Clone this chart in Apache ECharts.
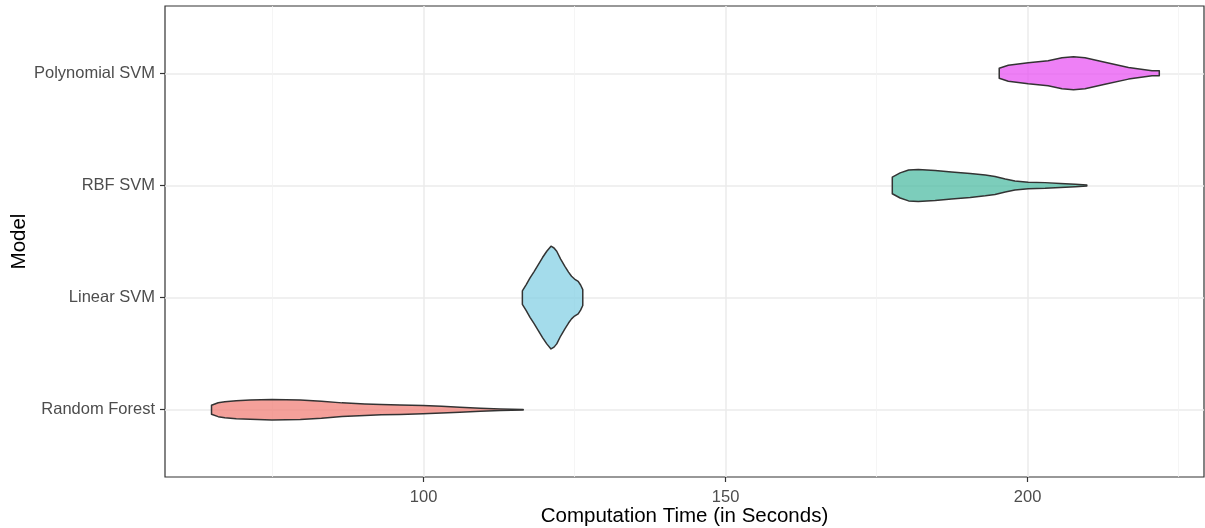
<!DOCTYPE html>
<html><head><meta charset="utf-8">
<script src="https://cdn.jsdelivr.net/npm/echarts@6/dist/echarts.min.js"></script>
<style>html,body{margin:0;padding:0;background:#fff}#c{width:1205px;height:528px}</style>
</head><body><div id="c"></div>
<script>
// Categories (bottom to top)
const categories = ['Random Forest', 'Linear SVM', 'RBF SVM', 'Polynomial SVM'];
const xTicks = [100, 150, 200];
const xMinorTicks = [75, 125, 175, 225];

// Violin profiles: computation time (s) and scaled density half-width (category units)
const rfTime   = [64.9, 66.0, 67.1, 69.0, 71.3, 74.9, 79.6, 83.1, 86.5, 90.3, 93.0, 96.1, 99.9, 103.0, 106.0, 109.4, 112.7, 116.5];
const rfWidth  = [0.040, 0.062, 0.071, 0.080, 0.086, 0.092, 0.087, 0.076, 0.061, 0.051, 0.046, 0.042, 0.037, 0.030, 0.022, 0.014, 0.007, 0.002];

const linTime  = [116.36, 117.0, 117.63, 118.3, 119.0, 119.7, 120.4, 121.1, 121.6, 122.05, 122.7, 123.4, 124.0, 124.5, 125.0, 125.6, 126.0, 126.36];
const linWidth = [0.060, 0.116, 0.176, 0.232, 0.294, 0.357, 0.413, 0.458, 0.442, 0.413, 0.343, 0.279, 0.227, 0.190, 0.165, 0.145, 0.112, 0.071];

const rbfTime  = [177.6, 178.9, 180.3, 181.9, 184.7, 187.4, 190.5, 193.0, 194.6, 196.3, 197.9, 200.1, 202.9, 205.4, 207.9, 209.8];
const rbfWidth = [0.074, 0.112, 0.138, 0.143, 0.134, 0.120, 0.107, 0.092, 0.080, 0.058, 0.040, 0.029, 0.025, 0.018, 0.011, 0.004];

const polyTime  = [195.3, 196.8, 200.1, 203.4, 205.7, 207.6, 209.5, 212.8, 216.7, 220.6, 221.8];
const polyWidth = [0.045, 0.071, 0.094, 0.112, 0.138, 0.147, 0.138, 0.098, 0.052, 0.022, 0.022];

const fills = ['rgba(239,119,111,0.7)', 'rgba(126,205,226,0.7)', 'rgba(69,184,158,0.7)', 'rgba(231,74,242,0.7)'];

const profiles = [
  [rfTime, rfWidth],
  [linTime, linWidth],
  [rbfTime, rbfWidth],
  [polyTime, polyWidth]
];

function makeRender(times, widths, cat, fill) {
  return function (params, api) {
    const upper = [], lower = [];
    for (let i = 0; i < times.length; i++) {
      upper.push(api.coord([times[i], cat + widths[i]]));
      lower.push(api.coord([times[i], cat - widths[i]]));
    }
    const pts = upper.concat(lower.reverse());
    return {
      type: 'polygon',
      shape: { points: pts },
      style: { fill: fill, stroke: '#333333', lineWidth: 1.5, lineJoin: 'round' }
    };
  };
}

const series = profiles.map(function (p, i) {
  return {
    type: 'custom',
    name: categories[i],
    xAxisIndex: 0,
    yAxisIndex: 0,
    renderItem: makeRender(p[0], p[1], i + 1, fills[i]),
    data: [[p[0][0], i + 1]],
    silent: true,
    clip: true
  };
});

const FONT = 'Liberation Sans, Arial, sans-serif';
const chart = echarts.init(document.getElementById('c'), null, { renderer: 'canvas' });
chart.setOption({
  animation: false,
  backgroundColor: '#ffffff',
  grid: {
    left: 165, top: 6, width: 1039, height: 471,
    outerBoundsMode: 'none', containLabel: false,
    show: true, borderColor: '#333333', borderWidth: 1.2, backgroundColor: '#ffffff'
  },
  xAxis: [{
    type: 'value', min: 57.2, max: 229.2,
    name: 'Computation Time (in Seconds)', nameLocation: 'middle', nameGap: 29, nameMoveOverlap: false,
    nameTextStyle: { color: '#000', fontSize: 20.5, fontFamily: FONT },
    axisLine: { show: false },
    axisTick: { show: true, length: 5, customValues: xTicks, lineStyle: { color: '#333333', width: 1.2 } },
    axisLabel: { customValues: xTicks, color: '#4D4D4D', fontSize: 16.5, fontFamily: FONT, margin: 12 },
    splitLine: { show: true, lineStyle: { color: '#EBEBEB', width: 1.5 } }
  }, {
    type: 'value', min: 57.2, max: 229.2, position: 'top',
    axisLine: { show: false }, axisLabel: { show: false },
    axisTick: { show: false, customValues: xMinorTicks },
    splitLine: { show: true, lineStyle: { color: '#F2F2F2', width: 0.8 } }
  }],
  yAxis: {
    type: 'value', min: 0.4, max: 4.6,
    name: 'Model', nameLocation: 'middle', nameGap: 135, nameRotate: 90, nameMoveOverlap: false,
    nameTextStyle: { color: '#000', fontSize: 20.5, fontFamily: FONT },
    axisLine: { show: false },
    axisTick: { show: true, length: 5, customValues: [1, 2, 3, 4], lineStyle: { color: '#333333', width: 1.2 } },
    axisLabel: {
      customValues: [1, 2, 3, 4], color: '#4D4D4D', fontSize: 16.5, fontFamily: FONT, margin: 10,
      formatter: function (v) { return categories[Math.round(v) - 1]; }
    },
    splitLine: { show: true, lineStyle: { color: '#EBEBEB', width: 1.5 } }
  },
  series: series
});
</script>
</body></html>
